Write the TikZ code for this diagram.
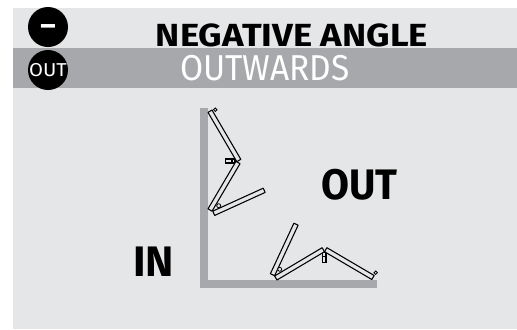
\documentclass[tikz,border=0pt]{standalone}
\usepackage{fontspec}
\setmainfont{Fira Sans}
\usetikzlibrary{positioning,calc}
\definecolor{panelgray}{RGB}{229,230,232}
\definecolor{bandgray}{RGB}{167,168,171}
\tikzset{
  bigtext/.style={font=\fontsize{24}{24}\selectfont\bfseries,inner sep=0pt,anchor=base},
  sidetext/.style={font=\fontsize{32}{32}\selectfont\bfseries,inner sep=0pt,anchor=base},
  badge/.style={circle,fill=black,text=white,minimum size=30pt,inner sep=0pt},
  pivot/.style={draw=black,fill=panelgray,line width=.6pt},
  latch/.style={draw=black,fill=panelgray,line width=.8pt}
}
\newcommand{\plate}[2]{%
  \draw[fill=panelgray,line width=.8pt,line join=round]
    ($(#1)!1.75pt!90:(#2)$) -- ($(#2)!1.75pt!-90:(#1)$) -- ($(#2)!1.75pt!90:(#1)$) -- ($(#1)!1.75pt!-90:(#2)$) -- cycle;
}
\begin{document}
\begin{tikzpicture}[x=.75pt,y=-.75pt]
\useasboundingbox (0,0) rectangle (517,329);
\fill[panelgray] (13,8) rectangle (517,329);
\fill[bandgray] (13,48) rectangle (517,88);
% header
\node[badge] (minus) at (48,27) {\smash{\raisebox{-6pt}{\fontsize{22}{22}\selectfont\bfseries\scalebox{1.5}[1]{-}}}};
\node[badge] (outbadge) at (48,70) {\fontsize{14}{14}\selectfont\scalebox{1.08}[1]{OUT}};
\node[bigtext] (title) at (292,46) {\scalebox{1.14}[1]{NEGATIVE ANGLE}};
\node[bigtext,font=\fontsize{27}{27}\selectfont,text=white] (subtitle) at (265,80) {\scalebox{.93}[1]{OUTWARDS}};
\node[sidetext] (inlabel) at (153.5,276) {IN};
\node[sidetext] (outlabel) at (359.5,199) {\scalebox{.95}[1]{OUT}};
% walls
\fill[bandgray] (200,108) rectangle (208,287.5);
\fill[bandgray] (200,280) rectangle (377,287.5);
% upper hinge
\coordinate (ua) at (210,111.2);
\coordinate (ub) at (238.8,160.5);
\coordinate (uc) at (238,162.5);
\coordinate (ud) at (210,210);
\coordinate (ue) at (213.7,213.3);
\coordinate (uf) at (264.2,190.3);
\draw[latch] (225.7,159) rectangle (235,163);
\draw[latch] (232,159) -- (232,163);
\plate{ua}{ub}
\plate{uc}{ud}
\plate{ue}{uf}
\draw[pivot] (215.3,109.7) circle [radius=1.7];
\draw[pivot] (218.7,205.7) circle [radius=2];
% lower hinge
\coordinate (la) at (272.5,274.7);
\coordinate (lb) at (296,224.2);
\coordinate (lc) at (275.8,278);
\coordinate (ld) at (323.3,249.7);
\coordinate (le) at (325.7,249.7);
\coordinate (lf) at (373,277.5);
\draw[latch] (322.7,252.7) rectangle (326,262.7);
\draw[latch] (322.7,256.7) -- (326,256.7);
\plate{la}{lb}
\plate{lc}{ld}
\plate{le}{lf}
\draw[pivot] (279.7,269.3) circle [radius=2];
\draw[pivot] (375.7,272.7) circle [radius=1.7];
\end{tikzpicture}
\end{document}
